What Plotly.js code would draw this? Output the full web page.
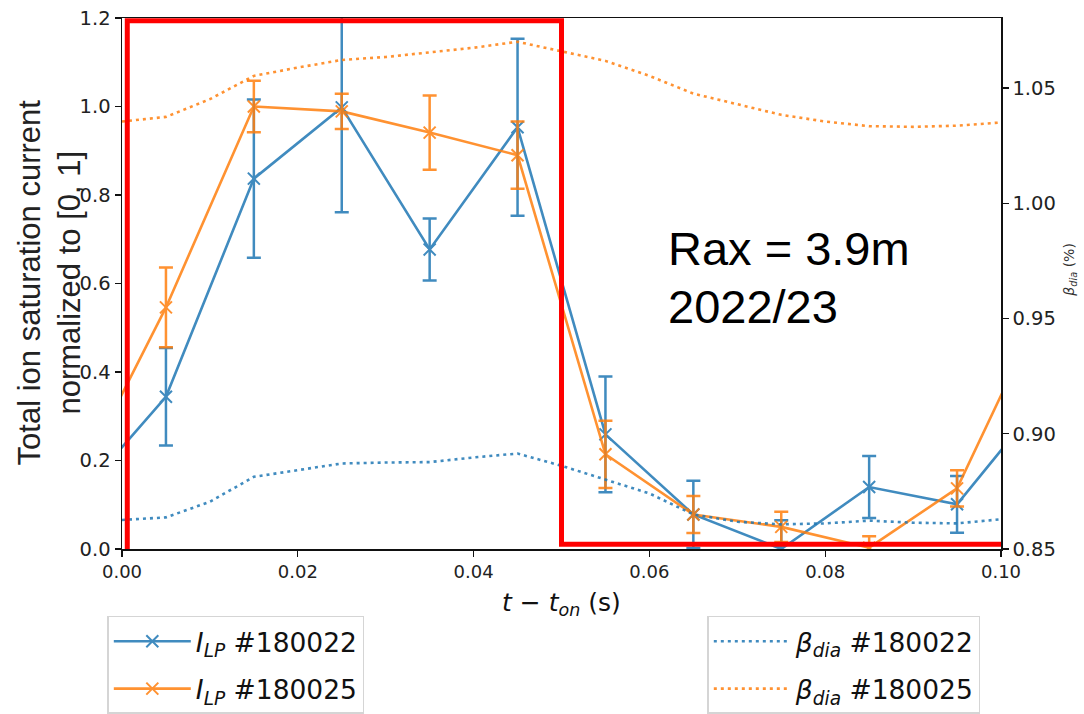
<!DOCTYPE html>
<html>
<head>
<meta charset="utf-8">
<script src="https://cdn.plot.ly/plotly-3.0.1.min.js"></script>
<style>html,body{margin:0;padding:0;background:#fff;}#chart{width:1084px;height:714px;}</style>
</head>
<body>
<div id="chart"></div>
<script>
// Probe times (s); first and last points lie just outside the visible range
const tProbe = [-0.005, 0.005, 0.015, 0.025, 0.035, 0.045, 0.055, 0.065, 0.075, 0.085, 0.095, 0.105];
const ilp180022 = [0.116, 0.344, 0.837, 0.998, 0.677, 0.953, 0.259, 0.078, 0.000, 0.140, 0.101, 0.345];
const ilp180022Err = [0, 0.110, 0.179, 0.237, 0.070, 0.200, 0.131, 0.076, 0.065, 0.070, 0.064, 0];
const ilp180025 = [0.154, 0.546, 1.000, 0.989, 0.941, 0.890, 0.214, 0.078, 0.050, 0.003, 0.137, 0.557];
const ilp180025Err = [0, 0.090, 0.058, 0.040, 0.084, 0.076, 0.076, 0.042, 0.034, 0.026, 0.041, 0];

// Diamagnetic beta (%)
const tBeta = [0, 0.005, 0.01, 0.015, 0.02, 0.025, 0.03, 0.035, 0.04, 0.045, 0.05, 0.055, 0.06, 0.065, 0.07, 0.075, 0.08, 0.085, 0.09, 0.095, 0.1];
const beta180022 = [0.8626, 0.8637, 0.8705, 0.8813, 0.8842, 0.8871, 0.8875, 0.8877, 0.8897, 0.8914, 0.8861, 0.8802, 0.8741, 0.8650, 0.8618, 0.8607, 0.8611, 0.8623, 0.8614, 0.8611, 0.8629];
const beta180025 = [1.0354, 1.0374, 1.0451, 1.0552, 1.0588, 1.0621, 1.0634, 1.0653, 1.0674, 1.0700, 1.0660, 1.0617, 1.0552, 1.0475, 1.0429, 1.0383, 1.0354, 1.0334, 1.0331, 1.0336, 1.0350];

const xTicks = [0, 0.02, 0.04, 0.06, 0.08, 0.10];
const yTicks = [0, 0.2, 0.4, 0.6, 0.8, 1.0, 1.2];
const y2Ticks = [0.85, 0.90, 0.95, 1.00, 1.05];

const names = {
  ilp22: '<i>I</i><sub><i>LP</i></sub> #180022',
  ilp25: '<i>I</i><sub><i>LP</i></sub> #180025',
  b22: '<i>β</i><sub><i>dia</i></sub> #180022',
  b25: '<i>β</i><sub><i>dia</i></sub> #180025'
};
const yTitleText = 'Total ion saturation current<br>normalized to [0, 1]';
const y2TitleText = '<i>β</i><sub><i>dia</i></sub> (%)';
const noteLines = ['Rax = 3.9m', '2022/23'];
const blue = '#1f77b4', orange = '#ff7f0e';

function ilpTrace(y, err, color, name, grp) {
  return {
    x: tProbe, y: y, type: 'scatter', mode: 'lines+markers', name: name,
    legend: 'legend', legendgroup: grp, opacity: 0.85,
    line: {color: color, width: 2.6},
    marker: {symbol: 'x-thin', size: 12, line: {color: color, width: 2}, color: color},
    error_y: {type: 'data', array: err, visible: true, color: color, thickness: 2.5, width: 7},
    cliponaxis: true
  };
}
function betaTrace(y, color, name, grp) {
  return {
    x: tBeta, y: y, type: 'scatter', mode: 'lines', name: name, yaxis: 'y2',
    legend: 'legend2', legendgroup: grp, opacity: 0.85,
    line: {color: color, width: 2.6, dash: '3px,4px'}
  };
}

const data = [
  ilpTrace(ilp180022, ilp180022Err, blue, names.ilp22, 'a'),
  ilpTrace(ilp180025, ilp180025Err, orange, names.ilp25, 'b'),
  betaTrace(beta180022, blue, names.b22, 'c'),
  betaTrace(beta180025, orange, names.b25, 'd')
];

const xTickFont = {family: 'DejaVu Sans', size: 18, color: '#222'};
const yTickFont = {family: 'DejaVu Sans', size: 19.5, color: '#222'};
const legendCommon = {
  font: {family: 'DejaVu Sans', size: 26.5, color: '#111'},
  bgcolor: 'rgba(255,255,255,0.9)', bordercolor: '#d5d5d5', borderwidth: 1.5,
  xref: 'container', yref: 'container',
  xanchor: 'left', yanchor: 'top', traceorder: 'grouped', tracegroupgap: 10,
  itemwidth: 77
};

const layout = {
  width: 1084, height: 714,
  margin: {l: 122, r: 83, t: 18, b: 164.5, autoexpand: false},
  paper_bgcolor: '#fff', plot_bgcolor: '#fff',
  showlegend: true,
  xaxis: {
    range: [0, 0.1], tickvals: xTicks, tickformat: '.2f',
    showline: true, linecolor: '#111', linewidth: 1.5, mirror: true,
    ticks: 'outside', ticklen: 6, tickwidth: 1.3, tickcolor: '#111',
    showgrid: false, zeroline: false, tickfont: xTickFont,
    title: {text: '<i>t</i> − <i>t</i><sub><i>on</i></sub> (s)', font: {family: 'DejaVu Sans', size: 25, color: '#111'}, standoff: 12}
  },
  yaxis: {
    range: [0, 1.2], tickvals: yTicks, tickformat: '.1f',
    showline: true, linecolor: '#111', linewidth: 1.5, mirror: true,
    ticks: 'outside', ticklen: 6, tickwidth: 1.3, tickcolor: '#111',
    showgrid: false, zeroline: false, tickfont: yTickFont
  },
  yaxis2: {
    range: [0.85, 1.0803], tickvals: y2Ticks, tickformat: '.2f',
    overlaying: 'y', side: 'right', anchor: 'x',
    showline: true, linecolor: '#111', linewidth: 1.5,
    ticks: 'outside', ticklen: 6, tickwidth: 1.3, tickcolor: '#111',
    showgrid: false, zeroline: false, tickfont: yTickFont
  },
  legend: Object.assign({x: 0.099, y: 0.1373}, legendCommon),
  legend2: Object.assign({x: 0.6525, y: 0.1373}, legendCommon),
  shapes: [{
    type: 'path', xref: 'x', yref: 'y', layer: 'above',
    path: 'M 0.0006,0 L 0.0006,1.194 L 0.05,1.194 L 0.05,0.011 L 0.1,0.011',
    line: {color: '#ff0000', width: 5}
  }],
  annotations: [
    {text: yTitleText, xref: 'paper', yref: 'paper', x: -0.0825, y: 0.503, xanchor: 'center', yanchor: 'middle',
     textangle: -90, showarrow: false, font: {family: 'Liberation Sans', size: 31, color: '#222'}},
    {text: y2TitleText, xref: 'paper', yref: 'paper', x: 1.0785, y: 0.526, xanchor: 'center', yanchor: 'middle',
     textangle: -90, showarrow: false, font: {family: 'DejaVu Sans', size: 14, color: '#333'}},
    {text: noteLines[0], xref: 'x', yref: 'y', x: 0.0619, y: 0.678, xanchor: 'left', yanchor: 'middle', showarrow: false,
     font: {family: 'Liberation Sans', size: 47, color: '#000'}},
    {text: noteLines[1], xref: 'x', yref: 'y', x: 0.0619, y: 0.547, xanchor: 'left', yanchor: 'middle', showarrow: false,
     font: {family: 'Liberation Sans', size: 47, color: '#000'}}
  ]
};

Plotly.newPlot('chart', data, layout, {staticPlot: true, displayModeBar: false});
</script>
</body>
</html>
